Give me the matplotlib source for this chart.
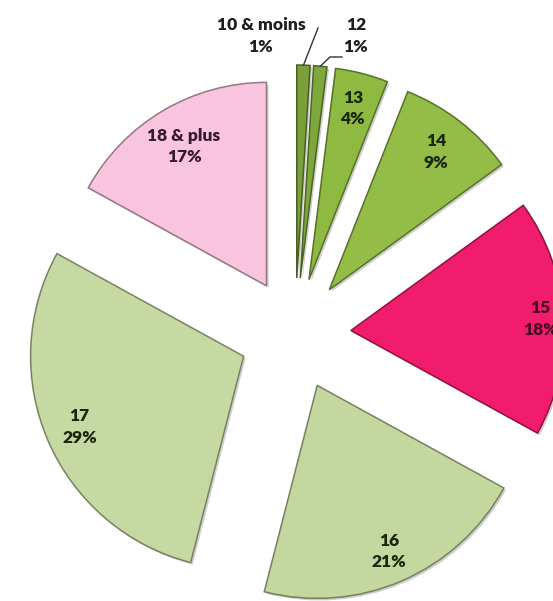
import numpy as np
import matplotlib
matplotlib.use("Agg")
import matplotlib.pyplot as plt
import matplotlib.patheffects as pe
from matplotlib.colors import to_rgb

# Age groups and their share (%)
categories = ["10 & moins", "12", "13", "14", "15", "16", "17", "18 & plus"]
shares = [1, 1, 4, 9, 18, 21, 29, 17]

colors = ["#79a03a", "#7fa83c", "#8fba42", "#93bd46", "#f11c6c",
          "#c4d79e", "#c7d9a2", "#f9c4de"]
text_colors = ["#1e1e1e", "#1e1e1e", "#1a260c", "#1a260c", "#450820",
               "#1a260c", "#1a260c", "#361a2f"]
label_dist = [None, None, 0.83, 0.82, 0.89, 0.85, 0.84, 0.76]
wedge_scale = [1, 1, 1, 1, 1, 1, 1, 0.955]

W, H = 553, 601
fig = plt.figure(figsize=(W / 100, H / 100), dpi=100)
ax = fig.add_axes([0, 0, 1, 1])

cx, cy = 295, H - 334
radius = 213
offset = 56


def darker(c, f=0.55):
    r, g, b = to_rgb(c)
    return (r * f, g * f, b * f)


wedges, _ = ax.pie(
    shares, colors=colors, startangle=90, counterclock=False,
    radius=radius, center=(cx, cy), explode=[offset] * len(shares),
    wedgeprops=dict(linewidth=1.1),
    frame=True,
)
ax.set_xlim(0, W)
ax.set_ylim(0, H)
ax.set_aspect("equal")
ax.axis("off")

for w, c, s in zip(wedges, colors, wedge_scale):
    w.set_radius(radius * s)
    w.set_edgecolor(darker(c, 0.6))
    w.set_path_effects([
        pe.SimplePatchShadow(offset=(1.5, -1.5), shadow_rgbFace="#777777", alpha=0.35),
        pe.Normal(),
    ])

font = dict(family=["Lato", "DejaVu Sans"], fontweight="heavy", fontsize=12.5)

for i, w in enumerate(wedges):
    d = label_dist[i]
    if d is None:
        continue
    th = np.deg2rad((w.theta1 + w.theta2) / 2)
    x0, y0 = w.center
    tx = x0 + d * radius * np.cos(th)
    ty = y0 + d * radius * np.sin(th)
    ax.text(tx, ty, f"{categories[i]}\n{shares[i]}%", ha="center", va="center",
            color=text_colors[i], linespacing=1.45, **font)

# Outside labels for the two thin slices, with leader lines
w0 = wedges[0]
th0 = np.deg2rad((w0.theta1 + w0.theta2) / 2)
p0 = (w0.center[0] + radius * np.cos(th0), w0.center[1] + radius * np.sin(th0))
ax.plot([p0[0], 318], [p0[1], H - 28], color="#333333", lw=1.0)
ax.text(261, H - 36, f"{categories[0]}\n{shares[0]}%", ha="center", va="center",
        color=text_colors[0], linespacing=1.45, **font)

w1 = wedges[1]
th1 = np.deg2rad((w1.theta1 + w1.theta2) / 2)
p1 = (w1.center[0] + radius * np.cos(th1), w1.center[1] + radius * np.sin(th1))
ax.plot([p1[0], 330, 342], [p1[1], H - 57, H - 57], color="#333333", lw=1.0)
ax.text(356, H - 36, f"{categories[1]}\n{shares[1]}%", ha="center", va="center",
        color=text_colors[1], linespacing=1.45, **font)

fig.savefig("out.png", dpi=100, facecolor="white")
